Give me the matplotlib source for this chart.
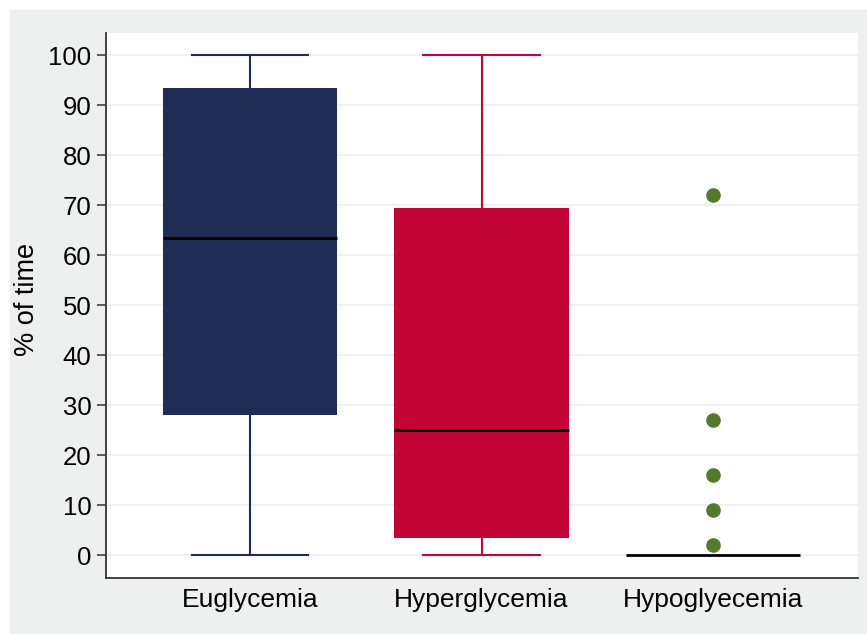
import matplotlib.pyplot as plt
from matplotlib.patches import Rectangle

# Group labels and box summaries (% of time)
groups = ["Euglycemia", "Hyperglycemia", "Hypoglyecemia"]
q1 = [28.0, 3.5, 0.0]
medians = [63.5, 25.0, 0.0]
q3 = [93.5, 69.5, 0.0]
whisk_lo = [0.0, 0.0, 0.0]
whisk_hi = [100.0, 100.0, 0.0]
outliers = [[], [], [72, 27, 16, 9, 2]]

colors = ["#1f2d54", "#c20534", "#557a2d"]
yticks = list(range(0, 101, 10))

plt.rcParams["font.family"] = ["Liberation Sans", "DejaVu Sans"]

fig = plt.figure(figsize=(8.67, 6.34), dpi=100, facecolor="white")
# grey panel behind the plot region
fig.add_artist(Rectangle((10 / 867, 0), 1, (634 - 10) / 634,
                         transform=fig.transFigure, facecolor="#eeefef",
                         edgecolor="none", zorder=-10))

ax = fig.add_axes([106 / 867, (634 - 578) / 634, (858 - 106) / 867, (578 - 33) / 634])
ax.set_facecolor("white")

stats = []
for i, g in enumerate(groups):
    stats.append({
        "label": g,
        "q1": q1[i],
        "med": medians[i],
        "q3": q3[i],
        "whislo": whisk_lo[i],
        "whishi": whisk_hi[i],
        "fliers": outliers[i],
    })

pos = [1, 2, 3]
bp = ax.bxp(stats, positions=pos, widths=0.755, capwidths=0.505,
            patch_artist=True, showfliers=True, zorder=3)

for i, c in enumerate(colors):
    bp["boxes"][i].set(facecolor=c, edgecolor=c, linewidth=0)
    bp["medians"][i].set(color="black", linewidth=2, zorder=5)
    for w in bp["whiskers"][2 * i:2 * i + 2]:
        w.set(color=c, linewidth=1.5)
    for cap in bp["caps"][2 * i:2 * i + 2]:
        cap.set(color=c, linewidth=1.5)
    bp["fliers"][i].set(marker="o", markerfacecolor=c, markeredgecolor=c,
                        markersize=9.5, linestyle="none")

# the hypoglycemia whiskers collapse onto zero, keep only the median line
for cap in bp["caps"][4:6]:
    cap.set_visible(False)
for w in bp["whiskers"][4:6]:
    w.set_visible(False)

ax.set_xlim(0.378, 3.626)
ax.set_ylim(-4.5, 104.4)
ax.set_yticks(yticks)
ax.set_xticks(pos)
ax.set_xticklabels(groups)
ax.yaxis.grid(True, color="#edf1f3", linewidth=1.5, zorder=0)
ax.set_axisbelow(True)

for s in ["top", "right"]:
    ax.spines[s].set_visible(False)
for s in ["left", "bottom"]:
    ax.spines[s].set_color("#333333")
    ax.spines[s].set_linewidth(1.3)

ax.tick_params(axis="y", length=6.5, width=1.1, color="#333333", pad=4, labelsize=18.5)
ax.tick_params(axis="x", length=0, pad=7, labelsize=19)
ax.set_ylabel("% of time", fontsize=19.5)
ax.yaxis.set_label_coords(-0.088, 0.512)

fig.savefig("out.png", dpi=100, facecolor=fig.get_facecolor())
